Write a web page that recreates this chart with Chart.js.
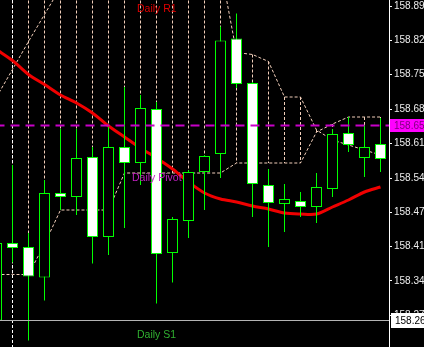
<!DOCTYPE html>
<html>
<head>
<meta charset="utf-8">
<script src="https://cdn.jsdelivr.net/npm/chart.js@4.4.1/dist/chart.umd.min.js"></script>
<style>
  html, body { margin: 0; padding: 0; background: #000; overflow: hidden; }
  #wrap { position: relative; width: 424px; height: 347px; }
</style>
</head>
<body>
<div id="wrap"><canvas id="myChart"></canvas></div>
<script>
// bar -1 is the one cut off at the left edge
const barIndex = [-1, 0, 1, 2, 3, 4, 5, 6, 7, 8, 9, 10, 11, 12, 13, 14, 15, 16, 17, 18, 19, 20, 21, 22, 23]

const opens  = [158.260, 158.415, 158.407, 158.346, 158.515, 158.507, 158.587, 158.427, 158.607, 158.575, 158.683, 158.395, 158.459,
                158.557, 158.593, 158.824, 158.735, 158.531, 158.493, 158.499, 158.487, 158.523, 158.635, 158.585, 158.613]
const highs  = [158.431, 158.571, 158.435, 158.541, 158.643, 158.643, 158.607, 158.647, 158.727, 158.711, 158.697, 158.467, 158.561,
                158.591, 158.848, 158.874, 158.737, 158.563, 158.533, 158.517, 158.555, 158.643, 158.667, 158.651, 158.665]
const lows   = [158.250, 158.376, 158.220, 158.300, 158.481, 158.471, 158.374, 158.391, 158.445, 158.531, 158.294, 158.336, 158.425,
                158.481, 158.545, 158.725, 158.467, 158.407, 158.437, 158.467, 158.455, 158.507, 158.597, 158.547, 158.557]
const closes = [158.415, 158.405, 158.348, 158.515, 158.507, 158.585, 158.427, 158.607, 158.575, 158.685, 158.393, 158.463, 158.557,
                158.589, 158.820, 158.733, 158.533, 158.495, 158.503, 158.487, 158.527, 158.633, 158.611, 158.607, 158.583]

// red moving average
const maValues = [158.802, 158.780, 158.752, 158.732, 158.711, 158.695, 158.675, 158.649, 158.627, 158.605, 158.585, 158.563, 158.537,
                  158.515, 158.503, 158.497, 158.489, 158.483, 158.475, 158.473, 158.473, 158.487, 158.501, 158.517, 158.527]

// the two dashed channel lines
const bandA = [158.707, 158.762, 158.818, 158.872, 158.926, 159.020, 159.020, 159.020, 159.020, 159.020, 159.020, 159.020, 159.020,
               159.020, 158.966, 158.796, 158.792, 158.778, 158.707, 158.707, 158.641, 158.621, 158.611, 158.601, 158.591]
const bandB = [158.352, 158.352, 158.352, 158.413, 158.481, 158.481, 158.481, 158.481, 158.555, 158.555, 158.555, 158.555, 158.555,
               158.555, 158.555, 158.575, 158.575, 158.575, 158.575, 158.575, 158.637, 158.653, 158.667, 158.667, 158.667]

// dashed verticals between the channel lines
const histTop    = [159.100, 159.100, 159.100, 159.100, 159.100, 159.100, 159.100, 159.100, 159.100, 159.100, 159.100, 159.100, 159.100,
                    159.100, 159.100, 158.796, 158.792, 158.778, 158.707, 158.707, 158.641, 158.653, 158.667, 158.667, 158.667]
const histBottom = [158.352, 158.352, 158.352, 158.413, 158.481, 158.481, 158.481, 158.481, 158.555, 158.555, 158.555, 158.555, 158.555,
                    158.555, 158.555, 158.575, 158.575, 158.575, 158.575, 158.575, 158.637, 158.621, 158.611, 158.601, 158.591]

const dayStarts = [0]
const pivotLevel = 158.65
const s1Level = 158.26

const levelNames = ['Daily R1', 'Daily Pivot', 'Daily S1']
const levelNameX = [7.78, 7.47, 7.78]
const levelNameY = [158.882, 158.545, 158.231]

const tickValues = [158.889, 158.820, 158.752, 158.683, 158.614, 158.545, 158.476, 158.408, 158.339, 158.270]
const tickLabels = ['158.89', '158.82', '158.75', '158.68', '158.61', '158.54', '158.47', '158.41', '158.34', '158.27']

const priceMin = 158.207
const priceMax = 158.901

const peach = '#f2cfba'
const candleGreen = '#00ff00'
const levelColors = ['#e00000', '#c020c0', '#30b030']

const histDatasets = barIndex.map((x, i) => ({
  type: 'line',
  data: [{x: x, y: histTop[i]}, {x: x, y: histBottom[i]}],
  borderColor: peach,
  borderWidth: 1,
  borderDash: [3, 2],
  pointRadius: 0,
  clip: 0,
  order: 20
}))

const separatorDatasets = dayStarts.map((x) => ({
  type: 'line',
  data: [{x: x, y: priceMax + 1}, {x: x, y: priceMin - 1}],
  borderColor: '#ffffff',
  borderWidth: 1,
  borderDash: [3, 2],
  pointRadius: 0,
  clip: 0,
  order: 19
}))

function bandDataset(values) {
  return {
    type: 'line',
    data: barIndex.map((x, i) => ({x: x, y: values[i]})),
    borderColor: peach,
    borderWidth: 1,
    borderDash: [3, 2],
    pointRadius: 0,
    tension: 0,
    clip: 0,
    order: 15
  }
}

function levelDataset(level, color, width, dash) {
  return {
    type: 'line',
    data: [{x: -2, y: level}, {x: 25, y: level}],
    borderColor: color,
    borderWidth: width,
    borderDash: dash,
    pointRadius: 0,
    clip: 0,
    order: 1
  }
}

const overlayPlugin = {
  id: 'overlay',
  afterDraw(chart) {
    const ctx = chart.ctx
    const xs = chart.scales.x
    const ys = chart.scales.y
    const right = chart.chartArea.right
    ctx.save()
    ctx.textBaseline = 'middle'
    ctx.textAlign = 'left'
    ctx.font = '10.5px "Liberation Sans"'
    levelNames.forEach((name, i) => {
      ctx.fillStyle = levelColors[i]
      ctx.fillText(name, xs.getPixelForValue(levelNameX[i]), ys.getPixelForValue(levelNameY[i]))
    })

    // price boxes on the axis
    ctx.font = '10px "Liberation Sans"'
    const py = ys.getPixelForValue(pivotLevel)
    ctx.fillStyle = '#ff00ff'
    ctx.fillRect(right + 1, Math.floor(py) - 6, 40, 13)
    ctx.fillStyle = '#800080'
    ctx.fillText(pivotLevel.toFixed(2), right + 5, py + 0.5)

    const sy = ys.getPixelForValue(s1Level)
    ctx.fillStyle = '#ffffff'
    ctx.fillRect(right + 2, Math.floor(sy) - 7, 40, 15)
    ctx.fillStyle = '#000000'
    ctx.fillText(s1Level.toFixed(2), right + 6, sy + 0.5)
    ctx.restore()
  }
}

const ctx = document.getElementById('myChart').getContext('2d')
const myChart = new Chart(ctx, {
  type: 'bar',
  data: {
    datasets: [
      ...histDatasets,
      ...separatorDatasets,
      bandDataset(bandA),
      bandDataset(bandB),
      {
        type: 'line',
        data: barIndex.map((x, i) => ({x: x, y: maValues[i]})),
        borderColor: '#f00000',
        borderWidth: 3,
        pointRadius: 0,
        tension: 0.3,
        clip: 0,
        order: 12
      },
      {
        // wicks
        type: 'bar',
        data: barIndex.map((x, i) => ({x: x, y: [lows[i], highs[i]]})),
        backgroundColor: candleGreen,
        borderWidth: 0,
        barThickness: 1,
        grouped: false,
        inflateAmount: 0,
        order: 6
      },
      {
        // bodies
        type: 'bar',
        data: barIndex.map((x, i) => ({x: x, y: [opens[i], closes[i]]})),
        backgroundColor: opens.map((o, i) => o > closes[i] ? '#ffffff' : '#000000'),
        borderColor: candleGreen,
        borderWidth: 1,
        borderSkipped: false,
        barThickness: 11,
        grouped: false,
        inflateAmount: 0,
        order: 5
      },
      levelDataset(pivotLevel, '#c800c8', 2, [9, 6]),
      levelDataset(s1Level, '#b4b4b4', 1, [])
    ]
  },
  options: {
    devicePixelRatio: 1,
    responsive: true,
    maintainAspectRatio: false,
    animation: false,
    events: [],
    layout: { padding: 0 },
    plugins: {
      legend: { display: false },
      tooltip: { enabled: false }
    },
    scales: {
      x: {
        type: 'linear',
        display: false,
        offset: false,
        min: -0.78125,
        max: 23.53125
      },
      y: {
        type: 'linear',
        position: 'right',
        min: priceMin,
        max: priceMax,
        beginAtZero: false,
        border: { display: true, color: '#ffffff', width: 1 },
        grid: { drawOnChartArea: false, color: '#ffffff', tickLength: 3 },
        afterBuildTicks: (scale) => {
          scale.ticks = tickValues.map((v) => ({value: v}))
        },
        afterFit: (scale) => {
          scale.width = 35
          scale.paddingTop = 0
          scale.paddingBottom = 0
        },
        ticks: {
          autoSkip: false,
          padding: 2,
          color: '#ececec',
          font: { family: 'Liberation Sans', size: 10 },
          callback: (value, index) => tickLabels[index]
        }
      }
    }
  },
  plugins: [overlayPlugin]
})
</script>
</body>
</html>
